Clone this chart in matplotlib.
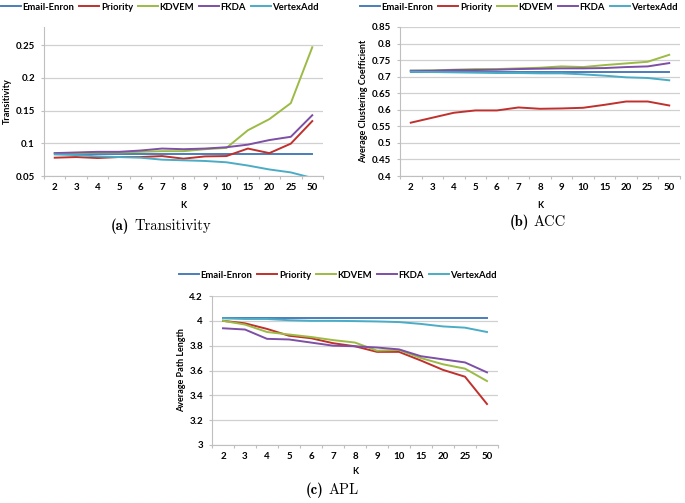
import matplotlib

matplotlib.use("Agg")

import matplotlib.pyplot as plt
import numpy as np

K_LABELS = ["2", "3", "4", "5", "6", "7", "8", "9", "10", "15", "20", "25", "50"]
SERIES = ["Email-Enron", "Priority", "KDVEM", "FKDA", "VertexAdd"]
COLORS = ["#4A7EBB", "#C0302D", "#9BBB45", "#7D4FA5", "#4BACC6"]

# (a) Transitivity
trans_enron = [0.084] * 13
trans_priority = [0.078, 0.079, 0.0775, 0.079, 0.079, 0.0805, 0.0765, 0.080, 0.0805, 0.092, 0.085, 0.0995, 0.134]
trans_kdvem = [0.085, 0.085, 0.086, 0.086, 0.087, 0.088, 0.088, 0.091, 0.093, 0.120, 0.137, 0.1615, 0.247]
trans_fkda = [0.085, 0.086, 0.087, 0.087, 0.089, 0.092, 0.091, 0.092, 0.094, 0.098, 0.105, 0.110, 0.143]
trans_vertex = [0.083, 0.082, 0.080, 0.079, 0.078, 0.075, 0.074, 0.073, 0.071, 0.066, 0.060, 0.0555, 0.047]

# (b) ACC
acc_enron = [0.715] * 13
acc_priority = [0.561, 0.576, 0.591, 0.598, 0.598, 0.607, 0.603, 0.604, 0.606, 0.615, 0.625, 0.625, 0.613]
acc_kdvem = [0.718, 0.719, 0.721, 0.723, 0.723, 0.725, 0.727, 0.731, 0.729, 0.735, 0.740, 0.745, 0.766]
acc_fkda = [0.718, 0.718, 0.720, 0.720, 0.721, 0.723, 0.724, 0.725, 0.725, 0.726, 0.729, 0.731, 0.741]
acc_vertex = [0.715, 0.714, 0.713, 0.712, 0.711, 0.711, 0.710, 0.710, 0.707, 0.703, 0.698, 0.696, 0.689]

# (c) APL
apl_enron = [4.026] * 13
apl_priority = [4.00, 3.98, 3.935, 3.88, 3.86, 3.82, 3.795, 3.75, 3.75, 3.68, 3.605, 3.55, 3.33]
apl_kdvem = [4.00, 3.97, 3.91, 3.89, 3.87, 3.845, 3.825, 3.76, 3.765, 3.70, 3.65, 3.615, 3.515]
apl_fkda = [3.94, 3.93, 3.855, 3.85, 3.825, 3.80, 3.795, 3.785, 3.77, 3.715, 3.69, 3.665, 3.585]
apl_vertex = [4.02, 4.015, 4.015, 4.005, 4.00, 4.00, 3.998, 3.995, 3.99, 3.975, 3.955, 3.945, 3.91]

W, H = 685, 503
TICK_FONT = dict(family="Lato", weight="bold", size=7)
GRAY = "#BFBFBF"


def px_axes(fig, left, top, right, bottom):
    return fig.add_axes([left / W, 1 - bottom / H, (right - left) / W, (bottom - top) / H])


def draw_panel(ax, data, ylim, yticks, ylabel, legend_center, ylabel_x, xlabel_y):
    x = np.arange(len(K_LABELS))
    for name, values, color in zip(SERIES, data, COLORS):
        ax.plot(x, values, color=color, lw=1.4, label=name, solid_joinstyle="round")
    ax.set_xlim(-0.5, len(K_LABELS) - 0.5)
    ax.set_ylim(*ylim)
    ax.set_yticks(yticks)
    ax.set_yticklabels([f"{t:g}" for t in yticks], fontdict=TICK_FONT)
    ax.set_xticks(x)
    ax.set_xticklabels(K_LABELS, fontdict=TICK_FONT)
    ax.set_xticks(np.arange(-0.5, len(K_LABELS)), minor=True)
    ax.tick_params(axis="x", which="major", length=0, pad=5)
    ax.tick_params(axis="x", which="minor", length=2.5, color=GRAY, width=0.8)
    ax.tick_params(axis="y", length=2.5, color=GRAY, width=0.8, pad=4)
    ax.grid(axis="y", color="#D0D0D0", lw=0.9)
    ax.set_axisbelow(True)
    for side in ["top", "right"]:
        ax.spines[side].set_visible(False)
    for side in ["left", "bottom"]:
        ax.spines[side].set_color(GRAY)
        ax.spines[side].set_linewidth(0.8)
    ax.set_ylabel(ylabel, family="Lato", weight="bold", size=6.5)
    ax.set_xlabel("K", family="Lato", weight="bold", size=6.5)
    ax.yaxis.set_label_coords(ylabel_x, 0.5)
    ax.xaxis.set_label_coords(0.5, xlabel_y)
    ax.legend(loc="center", bbox_to_anchor=(legend_center[0] / W, 1 - legend_center[1] / H),
              bbox_transform=ax.figure.transFigure, ncol=5, frameon=False,
              prop=dict(family="Lato", weight="bold", size=6.8), handlelength=2.1,
              handletextpad=0.2, columnspacing=0.5, borderpad=0, borderaxespad=0)


def caption(fig, letter, word, x, y):
    fig.text(x / W, 1 - y / H, f"({letter})", family="cmb10", size=10.5, ha="right", va="center")
    fig.text((x + 5) / W, 1 - y / H, word, family="cmr10", size=10.5, ha="left", va="center")


fig = plt.figure(figsize=(W / 100, H / 100), dpi=100)

ax_a = px_axes(fig, 44, 27, 323, 176)
draw_panel(ax_a, [trans_enron, trans_priority, trans_kdvem, trans_fkda, trans_vertex],
           (0.05, 0.278), [0.05, 0.1, 0.15, 0.2, 0.25], "Transitivity",
           (160, 7), -0.115, -0.165)

ax_b = px_axes(fig, 400, 27, 680, 176)
draw_panel(ax_b, [acc_enron, acc_priority, acc_kdvem, acc_fkda, acc_vertex],
           (0.4, 0.85), [0.4, 0.45, 0.5, 0.55, 0.6, 0.65, 0.7, 0.75, 0.8, 0.85],
           "Average Clustering Coefficient", (519, 7), -0.115, -0.165)

ax_c = px_axes(fig, 212, 296, 498, 445)
draw_panel(ax_c, [apl_enron, apl_priority, apl_kdvem, apl_fkda, apl_vertex],
           (3.0, 4.2), [3, 3.2, 3.4, 3.6, 3.8, 4, 4.2], "Average Path Length",
           (338, 275), -0.09, -0.145)

caption(fig, "a", "Transitivity", 129, 226)
caption(fig, "b", "ACC", 529, 222)
caption(fig, "c", "APL", 324, 490)

fig.savefig("out.png", dpi=100)
